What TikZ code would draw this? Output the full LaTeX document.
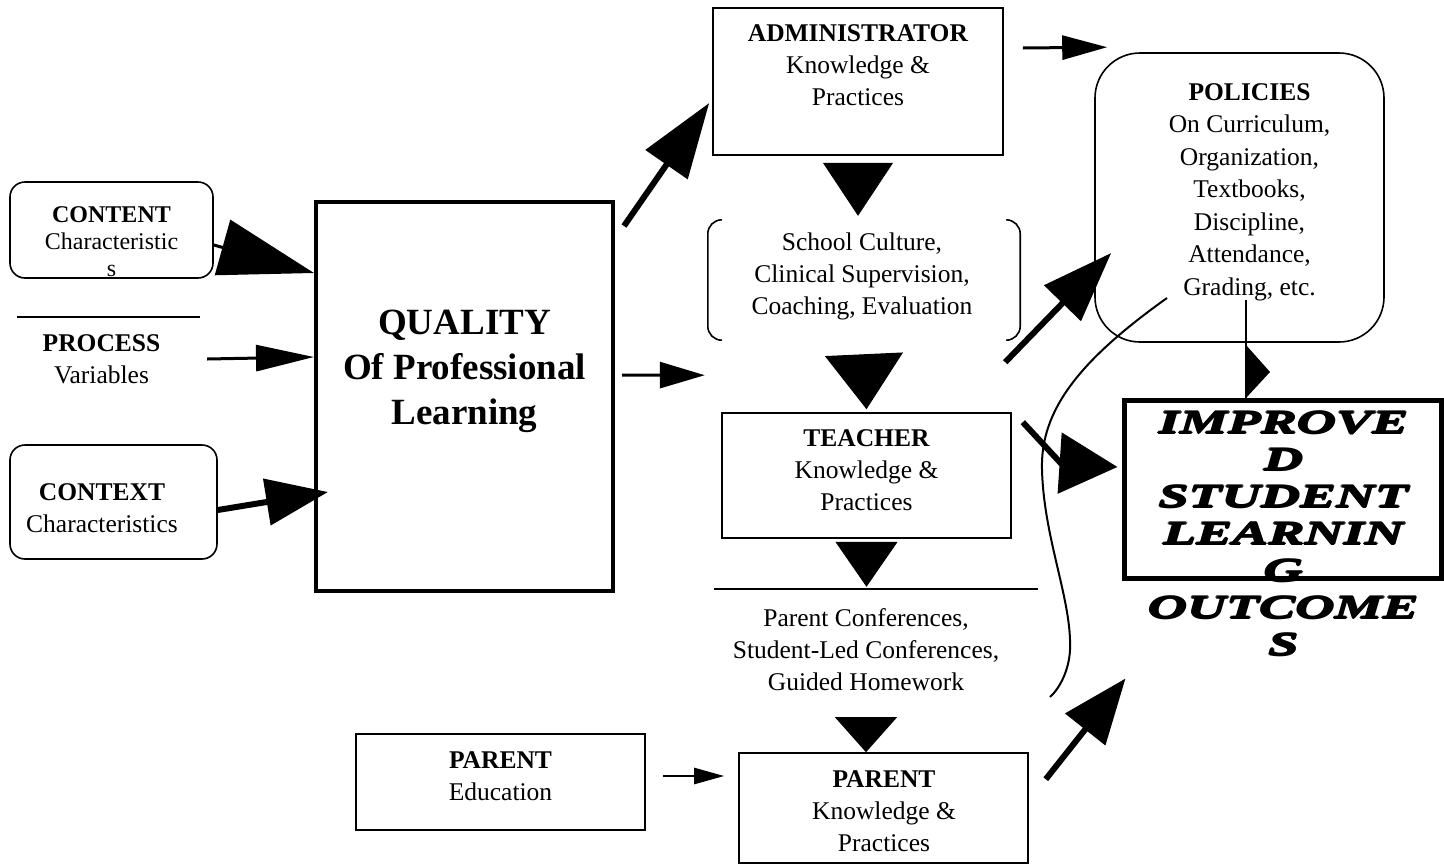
\documentclass[tikz,border=0pt]{standalone}
\usepackage{fontspec}
\setmainfont{Liberation Serif}
\newfontfamily\heavyfont{Liberation Serif}[FakeStretch=1.64]
\newcommand\fat[1]{\rlap{\kern1.8pt#1}\rlap{\kern0.9pt\raisebox{0.9pt}{#1}}\rlap{\kern0.9pt\raisebox{-0.9pt}{#1}}#1}
\usetikzlibrary{arrows.meta,positioning}
\tikzset{
	box/.style={draw,line width=1.6pt,inner sep=0pt},
	rbox/.style={box,rounded corners=15pt},
	txt/.style={align=center,inner sep=0pt,font=\fontsize{25.5}{32}\selectfont},
	small/.style={align=center,inner sep=0pt,font=\fontsize{24}{27}\selectfont},
	bigtxt/.style={align=center,inner sep=0pt,font=\bfseries\fontsize{37}{45}\selectfont},
	outtxt/.style={align=center,inner sep=0pt,font=\heavyfont\bfseries\itshape\fontsize{33}{37}\selectfont},
	arr/.style n args={3}{line width=#1,-{Triangle[length=#2,width=#3]}}
}
\begin{document}
\begin{tikzpicture}[x=1pt,y=-1pt]
	\useasboundingbox (0,0) rectangle (1444,865);
	% left column
	\node[rbox,minimum width=203pt,minimum height=96pt] (content) at (111.5,230) {};
	\node[small,below=25pt of content.north] (contenttxt) {\textbf{CONTENT}\\Characteristic\\s};
	\node[txt,minimum width=183pt,minimum height=84pt] (process) at (101.5,359) {\textbf{PROCESS}\\Variables};
	\draw[line width=1.5pt] ([xshift=7pt]process.north west) -- ([xshift=7pt]process.north east);
	\node[rbox,minimum width=207pt,minimum height=114pt] (context) at (113.5,502) {};
	\node[txt] (contexttxt) at (102,508.5) {\textbf{CONTEXT}\\Characteristics};
	\node[box,line width=4pt,minimum width=297pt,minimum height=389pt] (quality) at (464.5,396.5) {};
	\node[bigtxt,below=110pt of quality.north] (qualitytxt) {QUALITY\\Of Professional\\Learning};
	% middle column
	\node[box,minimum width=290pt,minimum height=147pt] (admin) at (858,81.5) {};
	\node[txt,below=17pt of admin.north] (admintxt) {\textbf{ADMINISTRATOR}\\Knowledge \&\\Practices};
	\node[minimum width=312pt,minimum height=120pt] (culture) at (864,280) {};
	\node[txt] (culturetxt) at (862,276) {School Culture,\\Clinical Supervision,\\Coaching, Evaluation};
	\draw[line width=1.6pt,rounded corners=14pt] ([xshift=14pt]culture.north west) -- (culture.north west) -- (culture.south west) -- ([xshift=14pt]culture.south west);
	\draw[line width=1.6pt,rounded corners=14pt] ([xshift=-14pt]culture.north east) -- (culture.north east) -- (culture.south east) -- ([xshift=-14pt]culture.south east);
	\node[box,minimum width=289pt,minimum height=125pt] (teacher) at (866.5,475.5) {};
	\node[txt] (teachertxt) at (866.5,470.5) {\textbf{TEACHER}\\Knowledge \&\\Practices};
	\node[txt,minimum width=324pt,minimum height=122pt] (conf) at (866,650) {Parent Conferences,\\Student-Led Conferences,\\Guided Homework};
	\draw[line width=1.5pt] ([xshift=10pt]conf.north west) -- ([xshift=10pt]conf.north east);
	\node[box,minimum width=289pt,minimum height=96pt] (paredu) at (500.5,782) {};
	\node[txt] (paredutxt) at (500.5,776) {\textbf{PARENT}\\Education};
	\node[box,minimum width=289pt,minimum height=110pt] (parent) at (883.5,808) {};
	\node[txt] (parenttxt) at (884,811) {\textbf{PARENT}\\Knowledge \&\\Practices};
	% right column
	\node[box,rounded corners=45pt,minimum width=289pt,minimum height=289pt] (policies) at (1239.5,197.5) {};
	\node[txt,font=\fontsize{25.5}{32.5}\selectfont,below=31pt of policies.north,xshift=10pt] (policiestxt) {\textbf{POLICIES}\\On Curriculum,\\Organization,\\Textbooks,\\Discipline,\\Attendance,\\Grading, etc.};
	\node[box,line width=5pt,minimum width=317pt,minimum height=178pt] (improved) at (1282.5,489) {};
	\node[outtxt,below=13pt of improved.north] (improvedtxt) {\fat{IMPROVE}\\\fat{D}\\\fat{STUDENT}\\\fat{LEARNIN}\\\fat{G}\\\fat{OUTCOME}\\\fat{S}};
	% arrows
	\draw[arr={3pt}{95pt}{57pt}] ([yshift=-15pt]content.east) -- ([yshift=-73pt]quality.north west);
	\draw[arr={3pt}{58pt}{26pt}] ([xshift=14pt]process.east) -- ([yshift=39.5pt]quality.west);
	\draw[arr={6pt}{62pt}{46pt}] ([yshift=-8pt]context.east) -- ([shift={(14pt,-95.5pt)}]quality.west);
	\draw[arr={6pt}{75pt}{50pt}] ([shift={(9pt,-26pt)}]quality.north east) -- ([shift={(-3pt,-21.5pt)}]admin.west);
	\draw[arr={3pt}{45pt}{26pt}] ([shift={(7pt,21.5pt)}]quality.east) -- ([shift={(-3pt,-35pt)}]culture.south west);
	\draw[arr={3pt}{45pt}{24pt}] ([shift={(19pt,33.5pt)}]admin.east) -- ([shift={(13pt,5pt)}]policies.north west);
	\draw[arr={1pt}{53pt}{70pt},shorten >=4pt] ([yshift=-8pt]admin.south) -- (admin.south |- culture.north);
	\draw[arr={1pt}{55pt}{78pt}] ([yshift=-15pt]culture.south) -- ([yshift=3pt]teacher.north);
	\draw[arr={1pt}{45pt}{62pt}] ([yshift=-4pt]teacher.south) -- ([yshift=2pt]teacher.south |- conf.north);
	\draw[arr={1pt}{35pt}{62pt}] ([shift={(-17.5pt,35pt)}]parent.north) -- ([xshift=-17.5pt]parent.north);
	\draw[arr={6pt}{70pt}{50pt}] ([shift={(-15pt,-22pt)}]culture.south east) -- ([shift={(17pt,-55.5pt)}]policies.west);
	\draw[arr={6pt}{58pt}{60pt}] ([shift={(11pt,-10pt)}]teacher.north east) -- ++(38,41) -- ([shift={(-4pt,22pt)}]improved.west);
	\draw[arr={6pt}{65pt}{50pt}] ([shift={(17pt,-27pt)}]parent.north east) -- ([shift={(4pt,-98pt)}]improved.south west);
	\draw[arr={2.5pt}{30pt}{16pt}] ([shift={(17pt,6pt)}]paredu.east) -- ([shift={(-14pt,32pt)}]parent.west);
	% policies down to outcomes
	\coordinate (stem) at (1246,300);
	\draw[line width=2pt] (stem) -- (stem |- improved.north);
	\fill ([yshift=-45pt]stem) -- ++(24,27) -- ++(-24,26) -- cycle;
	% curved line
	\coordinate (cvA) at (1167,298);
	\coordinate (cvB) at (1050,697);
	\draw[line width=2pt] (cvA) .. controls (1080,360) and (1040,410) .. (1042,470) .. controls (1044,540) and (1072,600) .. (1070,650) .. controls (1069,670) and (1060,688) .. (cvB);
\end{tikzpicture}
\end{document}
